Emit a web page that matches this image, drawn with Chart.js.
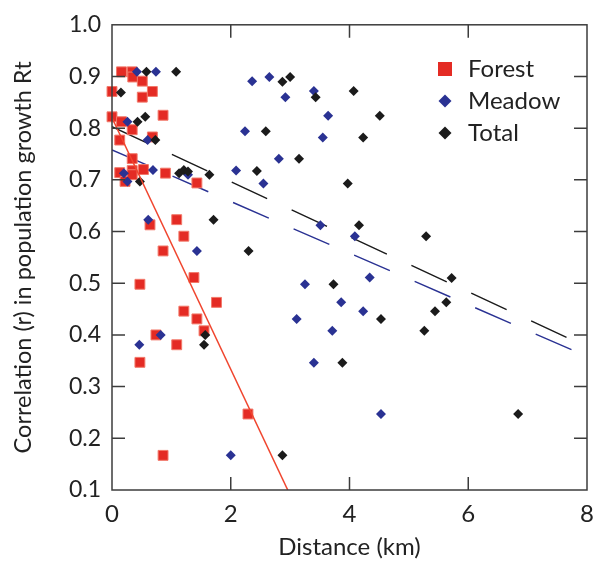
<!DOCTYPE html>
<html>
<head>
<meta charset="utf-8">
<script src="https://cdn.jsdelivr.net/npm/chart.js@4.4.1/dist/chart.umd.min.js"></script>
<style>
  html, body { margin: 0; padding: 0; background: #fff; }
  #wrap { width: 605px; height: 566px; position: relative; }
</style>
</head>
<body>
<div id="wrap"><canvas id="chart"></canvas></div>
<script>
// Distance (km) and correlation values
const forestDist = [0.16, 0.34, 0.35, 0.51, 0.0, 0.68, 0.51, 0.0, 0.86, 0.16, 0.34, 0.68, 0.13, 0.34, 0.13, 0.34, 0.53, 0.9, 0.22, 0.34, 1.43, 0.64, 1.09, 1.21, 0.86, 1.38, 0.47, 1.76, 1.21, 1.43, 1.55, 0.74, 1.09, 0.47, 2.29, 0.86];
const forestCorr = [0.909, 0.909, 0.899, 0.891, 0.871, 0.871, 0.86, 0.822, 0.825, 0.8125, 0.797, 0.783, 0.777, 0.741, 0.714, 0.718, 0.72, 0.713, 0.697, 0.71, 0.694, 0.613, 0.623, 0.591, 0.5625, 0.511, 0.498, 0.463, 0.446, 0.431, 0.408, 0.4, 0.381, 0.347, 0.247, 0.167];

const meadowDist = [0.42, 0.74, 0.26, 0.6, 0.69, 0.2, 0.26, 1.28, 2.09, 0.61, 1.43, 0.82, 0.46, 2.0, 2.36, 2.65, 2.92, 3.4, 3.64, 2.24, 3.55, 2.81, 2.55, 3.51, 4.09, 4.34, 3.25, 3.86, 4.23, 3.11, 3.71, 3.4, 4.53];
const meadowCorr = [0.909, 0.909, 0.8125, 0.777, 0.719, 0.713, 0.697, 0.71, 0.718, 0.623, 0.5625, 0.4, 0.381, 0.167, 0.891, 0.899, 0.86, 0.872, 0.824, 0.794, 0.782, 0.741, 0.693, 0.612, 0.591, 0.511, 0.498, 0.463, 0.446, 0.431, 0.408, 0.346, 0.247];

const totalDist = [0.58, 1.08, 0.15, 0.56, 0.43, 0.73, 0.47, 1.13, 1.21, 1.28, 1.64, 1.71, 1.57, 1.55, 2.87, 2.87, 3.0, 3.43, 4.07, 4.51, 2.59, 4.23, 3.15, 2.44, 3.97, 2.3, 4.16, 5.29, 3.73, 4.53, 5.26, 3.88, 5.72, 5.63, 5.44, 6.84];
const totalCorr = [0.909, 0.909, 0.869, 0.822, 0.8125, 0.777, 0.697, 0.713, 0.719, 0.716, 0.71, 0.623, 0.4, 0.381, 0.167, 0.89, 0.899, 0.86, 0.872, 0.824, 0.794, 0.782, 0.741, 0.717, 0.693, 0.5625, 0.612, 0.591, 0.498, 0.431, 0.408, 0.346, 0.51, 0.463, 0.446, 0.247];

// regression line end points
const forestFitX = [0, 2.96];
const forestFitY = [0.82, 0.1];
const meadowFitX = [0, 7.75];
const meadowFitY = [0.758, 0.371];
const totalFitX = [0, 7.66];
const totalFitY = [0.803, 0.395];

const xTicks = [0, 2, 4, 6, 8];
const yTicks = [0.1, 0.2, 0.3, 0.4, 0.5, 0.6, 0.7, 0.8, 0.9, 1.0];

const RED = '#e42b24';
const BLUE = '#2a3293';
const BLACK = '#1b1b1b';
const AXIS = '#3c3c3c';
const FONT = 'Lato';

function pts(xs, ys) {
    return xs.map((x, i) => ({ x: x, y: ys[i] }));
}

// frame + inward tick marks
const frameTicks = {
    id: 'frameTicks',
    afterDraw(chart) {
        const ctx = chart.ctx;
        const a = chart.chartArea;
        const xs = chart.scales.x, ys = chart.scales.y;
        const len = 13;
        ctx.save();
        ctx.strokeStyle = AXIS;
        ctx.lineWidth = 1.5;
        ctx.strokeRect(a.left, a.top, a.right - a.left, a.bottom - a.top);
        ctx.beginPath();
        xTicks.slice(1, -1).forEach(v => {
            const px = xs.getPixelForValue(v);
            ctx.moveTo(px, a.bottom); ctx.lineTo(px, a.bottom - len);
            ctx.moveTo(px, a.top); ctx.lineTo(px, a.top + len);
        });
        yTicks.slice(1, -1).forEach(v => {
            const py = ys.getPixelForValue(v);
            ctx.moveTo(a.left, py); ctx.lineTo(a.left + len, py);
            ctx.moveTo(a.right, py); ctx.lineTo(a.right - len, py);
        });
        ctx.stroke();
        ctx.restore();
    }
};

// legend drawn inside the plot, top right
const innerLegend = {
    id: 'innerLegend',
    afterDraw(chart) {
        const ctx = chart.ctx;
        const items = [
            { label: 'Forest', color: RED, shape: 'rect' },
            { label: 'Meadow', color: BLUE, shape: 'diamond' },
            { label: 'Total', color: BLACK, shape: 'diamond' }
        ];
        const mx = 445, tx = 468, y0 = 69, gap = 32;
        ctx.save();
        ctx.font = '24px ' + FONT;
        ctx.textBaseline = 'middle';
        ctx.fillStyle = '#222';
        items.forEach((it, i) => {
            const y = y0 + i * gap;
            ctx.fillStyle = it.color;
            ctx.beginPath();
            if (it.shape === 'rect') {
                ctx.rect(mx - 7, y - 7, 14, 14);
            } else {
                ctx.moveTo(mx, y - 6.5);
                ctx.lineTo(mx + 6.5, y);
                ctx.lineTo(mx, y + 6.5);
                ctx.lineTo(mx - 6.5, y);
                ctx.closePath();
            }
            ctx.fill();
            ctx.fillStyle = '#222';
            ctx.fillText(it.label, tx, y);
        });
        ctx.restore();
    }
};

const ctx = document.getElementById('chart');

new Chart(ctx, {
    type: 'scatter',
    data: {
        datasets: [
            {
                type: 'line',
                label: 'Forest fit',
                data: pts(forestFitX, forestFitY),
                borderColor: '#f0452e',
                borderWidth: 1.5,
                pointRadius: 0,
                fill: false,
                order: 0
            },
            {
                label: 'Total',
                data: pts(totalDist, totalCorr),
                pointStyle: 'rectRot',
                pointRadius: 5,
                backgroundColor: BLACK,
                borderColor: BLACK,
                borderWidth: 0,
                clip: false,
                order: 1
            },
            {
                label: 'Meadow',
                data: pts(meadowDist, meadowCorr),
                pointStyle: 'rectRot',
                pointRadius: 5,
                backgroundColor: BLUE,
                borderColor: BLUE,
                borderWidth: 0,
                clip: false,
                order: 2
            },
            {
                label: 'Forest',
                data: pts(forestDist, forestCorr),
                pointStyle: 'rect',
                pointRadius: 7,
                backgroundColor: RED,
                borderColor: '#f2796a',
                borderWidth: 1,
                clip: false,
                order: 3
            },
            {
                type: 'line',
                label: 'Total fit',
                data: pts(totalFitX, totalFitY),
                borderColor: BLACK,
                borderWidth: 1.4,
                borderDash: [39, 27],
                pointRadius: 0,
                fill: false,
                order: 4
            },
            {
                type: 'line',
                label: 'Meadow fit',
                data: pts(meadowFitX, meadowFitY),
                borderColor: BLUE,
                borderWidth: 1.4,
                borderDash: [39, 27],
                pointRadius: 0,
                fill: false,
                order: 5
            }
        ]
    },
    options: {
        responsive: true,
        maintainAspectRatio: false,
        animation: false,
        devicePixelRatio: 1,
        layout: { padding: { top: 15, right: 18, left: 0, bottom: 0 } },
        plugins: {
            legend: { display: false },
            tooltip: { enabled: false }
        },
        scales: {
            x: {
                type: 'linear',
                min: 0,
                max: 8,
                afterBuildTicks: s => { s.ticks = xTicks.map(v => ({ value: v })); },
                afterFit: s => { s.height = 76; },
                grid: { display: false, drawTicks: false },
                border: { display: false },
                ticks: {
                    padding: 10,
                    color: '#222',
                    font: { family: FONT, size: 24 },
                    callback: v => String(v)
                },
                title: {
                    display: true,
                    text: 'Distance (km)',
                    color: '#222',
                    font: { family: FONT, size: 24 },
                    padding: { top: 0, bottom: 4 }
                }
            },
            y: {
                type: 'linear',
                min: 0.1,
                max: 1.0,
                afterBuildTicks: s => { s.ticks = yTicks.map(v => ({ value: v })); },
                afterFit: s => { s.width = 112; },
                grid: { display: false, drawTicks: false },
                border: { display: false },
                ticks: {
                    padding: 11,
                    color: '#222',
                    font: { family: FONT, size: 23 },
                    callback: v => v.toFixed(1)
                },
                title: {
                    display: true,
                    text: 'Correlation (r) in population growth Rt',
                    color: '#222',
                    font: { family: FONT, size: 23.5 },
                    padding: { top: 9, bottom: 0 }
                }
            }
        }
    },
    plugins: [frameTicks, innerLegend]
});
</script>
</body>
</html>
